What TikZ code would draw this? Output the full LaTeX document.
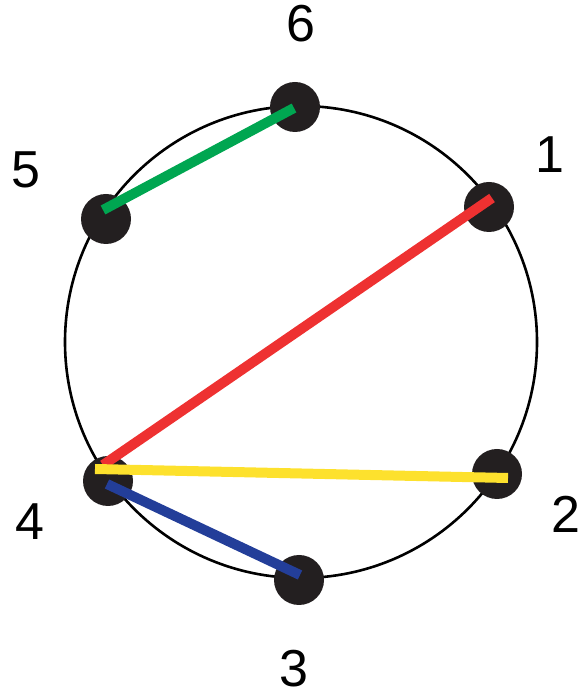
\documentclass[tikz,border=0pt]{standalone}
\usepackage{fontspec}
\setmainfont{Liberation Sans}
\usepackage{tikz}
\definecolor{chordred}{HTML}{EE3131}
\definecolor{chordgreen}{HTML}{00A651}
\definecolor{chordyellow}{HTML}{FDE12D}
\definecolor{chordblue}{HTML}{233E99}
\definecolor{dotblack}{HTML}{231F20}

\begin{document}
\begin{tikzpicture}[x=1pt,y=1pt,font=\fontsize{52}{56}\selectfont,
 ring/.style={draw=black,line width=2.6pt},
 site/.style={circle,fill=dotblack,inner sep=0pt,minimum size=50pt},
 chord/.style={line width=10pt,line cap=butt},
 num/.style={inner sep=0pt}]
\useasboundingbox (0,0) rectangle (584,698);
\node[draw=none,inner sep=0pt] (ring) at (301,356) {};
\draw[ring] (ring) circle[radius=236];
\foreach \p/\id in {{(489,491)}/d1,{(497,224)}/d2,{(299,118)}/d3,{(108,217)}/d4,{(106,479)}/d5,{(295,591)}/d6}{
\node[site] (\id) at \p {};}
\foreach \p/\id/\t in {{(550,543)}/l1/1,{(566,184)}/l2/2,{(294,29)}/l3/3,{(30,176)}/l4/4,{(26,528)}/l5/5,{(301,674)}/l6/6}{
\node[num] (\id) at \p {\t};}
% chord ends
\coordinate (g5) at (103,488); \coordinate (g6) at (294,590);
\coordinate (r4) at (103,233); \coordinate (r1) at (492,500);
\coordinate (y4) at (95,229); \coordinate (y2) at (508,220);
\coordinate (b4) at (107,214); \coordinate (b3) at (300,123);
\draw[chord,chordgreen] (g5)--(g6);
\draw[chord,chordred] (r4)--(r1);
\draw[chord,chordblue] (b4)--(b3);
\draw[chord,chordyellow] (y4)--(y2);
\end{tikzpicture}
\end{document}
